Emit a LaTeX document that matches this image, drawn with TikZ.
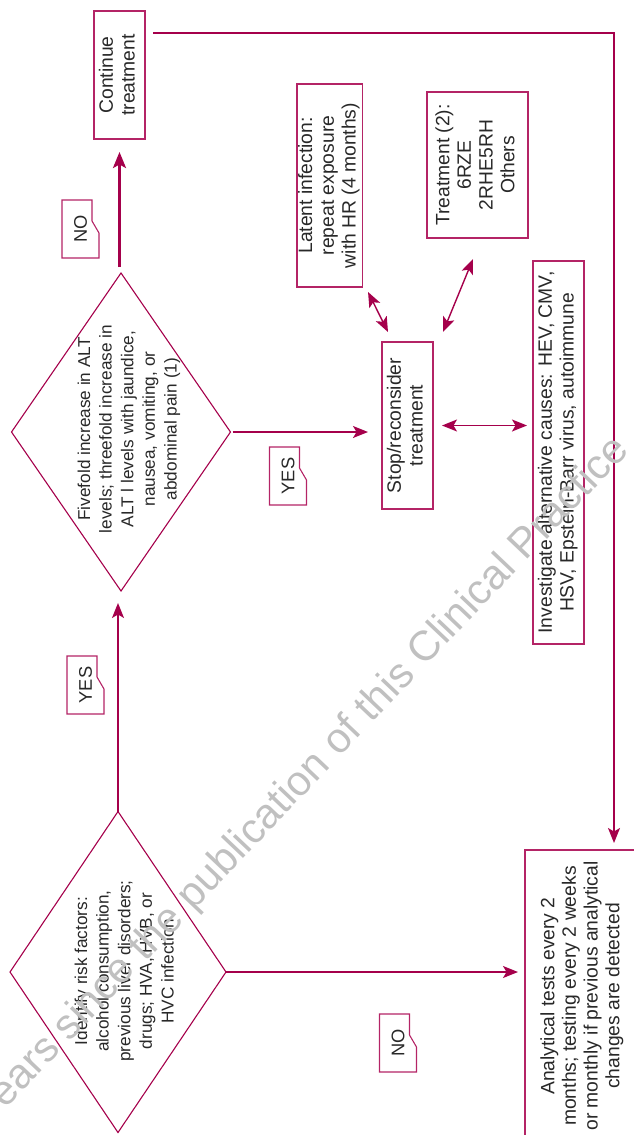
\documentclass[tikz,border=0pt]{standalone}
\usepackage{fontspec}
\setmainfont{Liberation Sans}
\usepackage{graphicx}
\usetikzlibrary{arrows.meta,shapes.geometric,calc}
\definecolor{mag}{RGB}{165,0,75}
\definecolor{magbox}{RGB}{180,36,102}
\definecolor{txt}{RGB}{40,40,40}
\definecolor{wmgray}{RGB}{192,192,192}
\newcommand\rt[1]{\rotatebox{90}{\begin{tabular}{@{}c@{}}#1\end{tabular}}}
\begin{document}
\begin{tikzpicture}[x=1pt,y=-1pt,
  font=\fontsize{19.3}{21.7}\selectfont,
  box/.style={draw=magbox, line width=1.1pt, rectangle, inner sep=0pt, outer sep=0pt, text=txt},
  dia/.style={draw=mag, line width=1.1pt, diamond, inner sep=0pt, outer sep=0pt},
  lbl/.style={inner sep=0pt, outer sep=0pt, text=txt, font=\fontsize{17.2}{21.6}\selectfont},
  tagbox/.style={inner sep=0pt, outer sep=0pt, minimum width=37pt, minimum height=58pt, text=txt, font=\fontsize{18.3}{21.6}\selectfont},
  tagline/.style={draw=magbox, line width=1.1pt},
  arr/.style={draw=mag, line width=1.4pt, -{Stealth[length=15pt,width=12pt,inset=3.5pt]}},
  darr/.style={draw=mag, line width=1.4pt, {Stealth[length=15pt,width=12pt,inset=3.5pt]}-{Stealth[length=15pt,width=12pt,inset=3.5pt]}},
  thickarr/.style={draw=mag, line width=2.6pt, -{Stealth[length=16pt,width=13pt,inset=3.5pt]}},
  wm/.style={inner sep=0pt, outer sep=0pt, text=wmgray, font=\fontsize{42}{48}\selectfont, rotate=46.5}
]
\useasboundingbox (0,0) rectangle (634,1135);
\begin{scope}
\clip (0,0) rectangle (634,1135);

% diamonds
\node[dia, minimum width=216pt, minimum height=321pt] (d1) at (118,972) {};
\node[lbl] (t1) at (126,971) {\rt{Identify risk factors:\\alcohol consumption,\\previous liver disorders;\\drugs; HVA, HVB, or\\HVC infection}};
\node[dia, minimum width=219pt, minimum height=318pt] (d2) at (121,432) {};
\node[lbl] (t2) at (129,429) {\rt{Fivefold increase in ALT\\levels; threefold increase in\\ALT l levels with jaundice,\\nausea, vomiting, or\\abdominal pain (1)}};

% boxes
\node[box, minimum width=51pt, minimum height=128pt] (cont) at (119.5,75) {\rt{Continue\\treatment}};
\node[box, minimum width=65pt, minimum height=203pt] (lat) at (329.5,185.5) {\rt{Latent infection:\\repeat exposure\\with HR (4 months)}};
\node[box, minimum width=101pt, minimum height=146pt] (treat) at (477.5,165) {\rt{Treatment (2):\\6RZE\\2RHE5RH\\Others}};
\node[box, minimum width=51pt, minimum height=167pt] (stop) at (407.5,425.5) {\rt{Stop/reconsider\\treatment}};
\node[box, minimum width=51pt, minimum height=383pt] (inv) at (558.5,452.5) {\rt{Investigate alternative causes: HEV, CMV,\\HSV, Epstein-Barr virus, autoimmune}};
\node[box, minimum width=115pt, minimum height=292pt] (anal) at (582.5,996) {\rt{Analytical tests every 2\\months; testing every 2 weeks\\or monthly if previous analytical\\changes are detected}};

% tags
\foreach \n/\p/\t in {yes1/{(85.5,685)}/YES, yes2/{(288,476)}/YES, no1/{(80.5,229)}/NO, no2/{(398,1043)}/NO}{
  \node[tagbox] (\n) at \p {\rotatebox{90}{\t}};
  \draw[tagline] (\n.north west) -- ([xshift=-7pt]\n.north east) -- ([xshift=-7pt,yshift=-21pt]\n.north east)
     -- ([yshift=-33pt]\n.north east) -- (\n.south east) -- (\n.south west) -- cycle;
}

% connectors
\draw[arr, shorten >=12pt] (d1.north) -- (d1.north |- d2.south);
\draw[thickarr, shorten <=6pt, shorten >=13pt] (cont.south |- d2.north) -- (cont.south);
\draw[arr, shorten <=2pt, shorten >=14pt] (d2.east) -- (d2.east -| stop.west);
\draw[darr, shorten <=9pt, shorten >=6pt] (stop.east) -- (stop.east -| inv.west);
\draw[arr, shorten >=7pt] (d1.east) -- (d1.east -| anal.west);
\draw[arr, shorten <=8pt, shorten >=7pt] ([yshift=-22pt]cont.north east) -| ([xshift=31.5pt]anal.north);
\draw[darr] ([xshift=6pt,yshift=-5pt]lat.south east) -- ([xshift=6pt,yshift=10pt]stop.north west);
\draw[darr] ([xshift=-4.5pt,yshift=-21pt]treat.south) -- ([xshift=10pt,yshift=10pt]stop.north east);

% watermark
\node[wm] (wmark) at (310,773) {ears since the publication of this Clinical Practice};
\end{scope}
\end{tikzpicture}
\end{document}
